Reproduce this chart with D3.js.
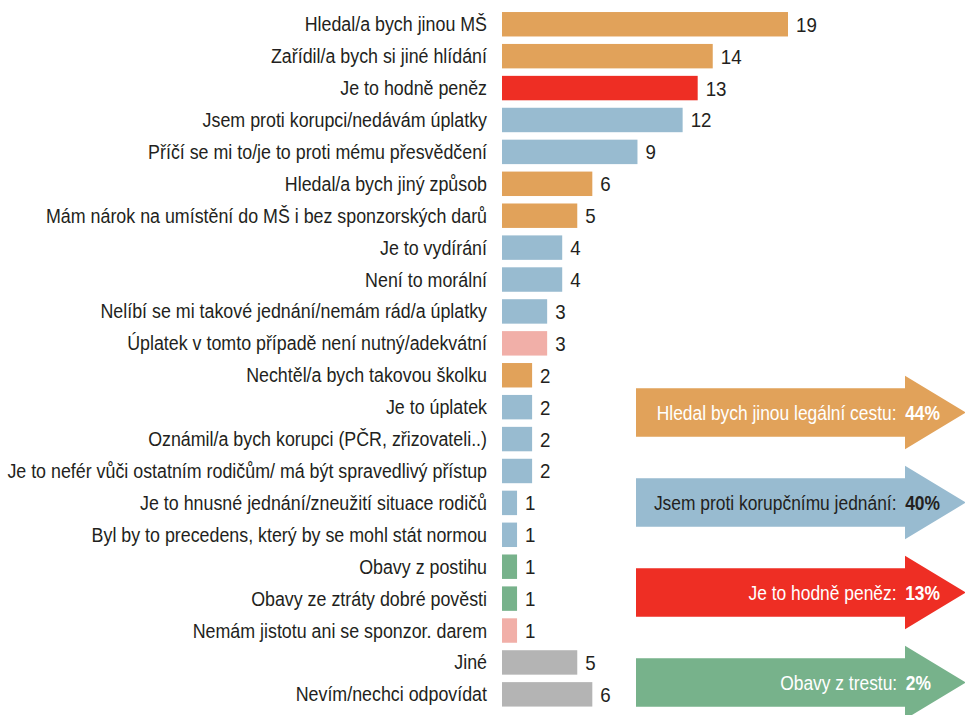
<!DOCTYPE html>
<html>
<head>
<meta charset="utf-8">
<script src="https://cdn.jsdelivr.net/npm/d3@7"></script>
<style>
  html, body { margin: 0; padding: 0; background: #fff; }
  svg { display: block; }
  text { font-family: "Liberation Sans Narrow", "Liberation Sans", Arial, sans-serif; }
</style>
</head>
<body>
<svg id="chart" width="965" height="715"></svg>
<script>
// Reasons given by respondents (share of answers, %)
const categories = [
  "Hledal/a bych jinou MŠ",
  "Zařídil/a bych si jiné hlídání",
  "Je to hodně peněz",
  "Jsem proti korupci/nedávám úplatky",
  "Příčí se mi to/je to proti mému přesvědčení",
  "Hledal/a bych jiný způsob",
  "Mám nárok na umístění do MŠ i bez sponzorských darů",
  "Je to vydírání",
  "Není to morální",
  "Nelíbí se mi takové jednání/nemám rád/a úplatky",
  "Úplatek v tomto případě není nutný/adekvátní",
  "Nechtěl/a bych takovou školku",
  "Je to úplatek",
  "Oznámil/a bych korupci (PČR, zřizovateli..)",
  "Je to nefér vůči ostatním rodičům/ má být spravedlivý přístup",
  "Je to hnusné jednání/zneužití situace rodičů",
  "Byl by to precedens, který by se mohl stát normou",
  "Obavy z postihu",
  "Obavy ze ztráty dobré pověsti",
  "Nemám jistotu ani se sponzor. darem",
  "Jiné",
  "Nevím/nechci odpovídat"
];
const values = [19, 14, 13, 12, 9, 6, 5, 4, 4, 3, 3, 2, 2, 2, 2, 1, 1, 1, 1, 1, 5, 6];
// group of each answer: legal = look for other way, against = against corruption,
// money = too expensive, fear = fear of punishment, other = remaining, none = no answer
const groups = ["legal", "legal", "money", "against", "against", "legal", "legal", "against", "against",
  "against", "other", "legal", "against", "against", "against", "against", "against", "fear", "fear",
  "other", "none", "none"];

// Summary arrows
const summaryLabels = ["Hledal bych jinou legální cestu:", "Jsem proti korupčnímu jednání:", "Je to hodně peněz:", "Obavy z trestu:"];
const summaryValues = ["44%", "40%", "13%", "2%"];
const summaryGroups = ["legal", "against", "money", "fear"];

const color = d3.scaleOrdinal()
  .domain(["legal", "against", "money", "fear", "other", "none"])
  .range(["#E1A25A", "#98BBD0", "#EE2E24", "#77B28B", "#F1AFA8", "#B4B4B4"]);
const arrowText = { legal: "#fff", against: "#231F20", money: "#fff", fear: "#fff" };

const svg = d3.select("#chart");
const ink = "#231F20";

const x = d3.scaleLinear().domain([0, 19]).range([502, 788]);
const y = d3.scaleBand().domain(categories).range([8.3, 710.3]).paddingInner(0.234).paddingOuter(0.117);

// horizontal compression so the text reads like a condensed face
const fit = (txt, size, weight, target) => {
  const t = svg.append("text").attr("font-size", size).attr("font-weight", weight).text(txt);
  const w = t.node().getComputedTextLength();
  t.remove();
  return Math.min(1, target / w);
};
const sx = fit(categories[14], 20, "normal", 480);
const sxa = fit(summaryLabels[0], 21, "normal", 240);

const rows = svg.append("g").selectAll("g").data(categories).join("g");

rows.append("rect")
  .attr("x", x(0))
  .attr("y", d => y(d))
  .attr("width", (d, i) => x(values[i]) - x(0))
  .attr("height", y.bandwidth())
  .attr("fill", (d, i) => color(groups[i]));

rows.append("text")
  .attr("transform", d => `translate(487,${y(d) + y.bandwidth() / 2 + 7}) scale(${sx},1)`)
  .attr("text-anchor", "end")
  .attr("font-size", 20)
  .attr("fill", ink)
  .text(d => d);

rows.append("text")
  .attr("transform", (d, i) => `translate(${x(values[i]) + 8},${y(d) + y.bandwidth() / 2 + 7.5}) scale(${sx},1)`)
  .attr("font-size", 21)
  .attr("fill", ink)
  .text((d, i) => values[i]);

// summary arrows
const ay = d3.scalePoint().domain(summaryLabels).range([412.5, 682.5]);
const arrowPath = cy => {
  const x0 = 636, x1 = 905, tip = 966, hb = 24.2, hh = 36.7;
  return `M${x0},${cy - hb}H${x1}V${cy - hh}L${tip},${cy}L${x1},${cy + hh}V${cy + hb}H${x0}Z`;
};
const arrows = svg.append("g").selectAll("g").data(summaryLabels).join("g");
arrows.append("path")
  .attr("d", d => arrowPath(ay(d)))
  .attr("fill", (d, i) => color(summaryGroups[i]));
const at = arrows.append("text")
  .attr("transform", (d, i) => `translate(${i === 3 ? 931 : 940},${ay(d) + 7.5}) scale(${sxa},1)`)
  .attr("text-anchor", "end")
  .attr("font-size", 21)
  .attr("fill", (d, i) => arrowText[summaryGroups[i]]);
at.append("tspan").text(d => d + "\u2002");
at.append("tspan").attr("font-weight", "bold").text((d, i) => summaryValues[i]);
</script>
</body>
</html>
